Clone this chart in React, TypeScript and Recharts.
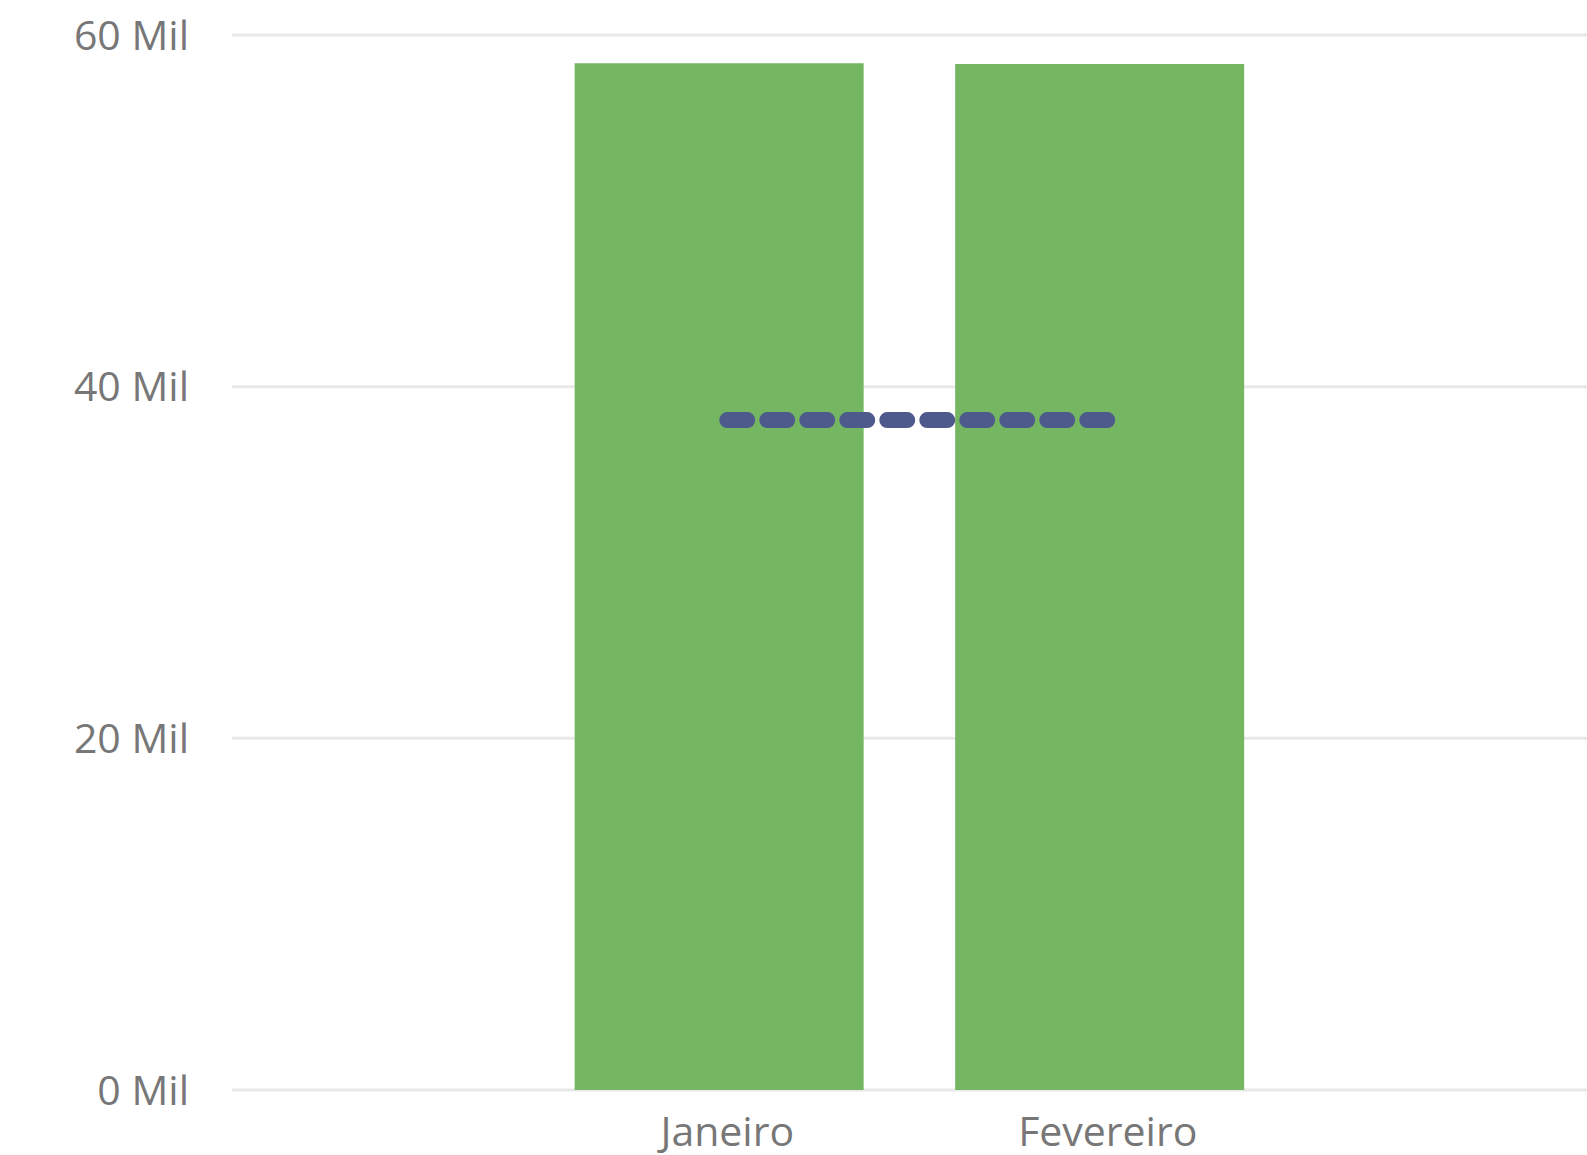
import { Bar, CartesianGrid, ComposedChart, Line, XAxis, YAxis } from "recharts"

const MONTHS = ["Janeiro", "Fevereiro"]
const REALIZADO = [58400, 58350]
const META = [38100, 38100]
const Y_TICKS = [0, 20000, 40000, 60000]

const DATA = MONTHS.map((name, i) => ({ name, realizado: REALIZADO[i], meta: META[i] }))

const TICK_STYLE = { fill: "#777777", fontSize: 41, fontFamily: "'Open Sans', sans-serif" }

export default function App() {
    return (
        <div style={{ position: "absolute", left: 0, top: 0, width: 1587, height: 1155, background: "#fff" }}>
            <ComposedChart
                width={1587}
                height={1155}
                data={DATA}
                margin={{ top: 35, right: 0, bottom: 0, left: 0 }}
                barCategoryGap="12%"
            >
                <CartesianGrid vertical={false} stroke="#e8e8e8" strokeWidth={3} />
                {/* bars sit a little left of the labels/line in the original */}
                <XAxis
                    xAxisId="bars"
                    dataKey="name"
                    orientation="top"
                    hide
                    height={0}
                    padding={{ left: 297, right: 297 }}
                />
                <XAxis
                    xAxisId="meta"
                    dataKey="name"
                    axisLine={false}
                    tickLine={false}
                    tickSize={0}
                    tickMargin={27}
                    height={65}
                    padding={{ left: 305, right: 289 }}
                    tick={TICK_STYLE}
                    interval={0}
                />
                <YAxis
                    domain={[0, 60000]}
                    ticks={Y_TICKS}
                    axisLine={false}
                    tickLine={false}
                    tickSize={0}
                    tickMargin={43}
                    width={232}
                    tick={TICK_STYLE}
                    tickFormatter={(v) => `${v / 1000} Mil`}
                />
                <Bar xAxisId="bars" dataKey="realizado" fill="#74b662" isAnimationActive={false} />
                <Line
                    xAxisId="meta"
                    dataKey="meta"
                    type="linear"
                    stroke="#4d5a8b"
                    strokeWidth={16}
                    strokeLinecap="round"
                    strokeDasharray="20 20"
                    dot={false}
                    activeDot={false}
                    isAnimationActive={false}
                />
            </ComposedChart>
        </div>
    )
}
